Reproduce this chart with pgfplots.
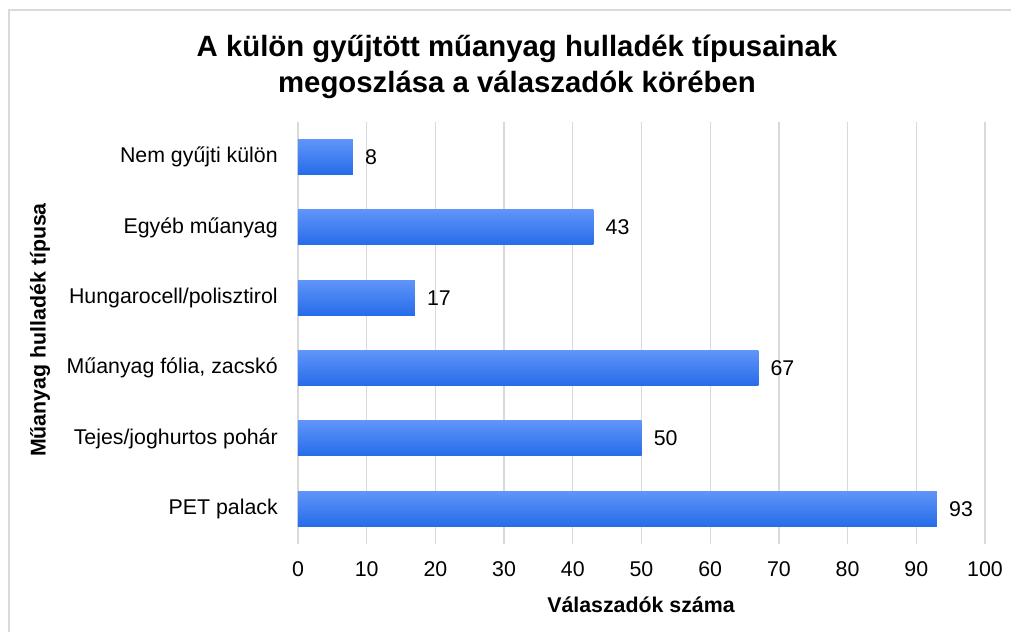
\documentclass[border=0pt]{standalone}
\usepackage{pgfplots}
\pgfplotsset{compat=1.18}
\usepackage{fontspec}
\setmainfont{Liberation Sans}
\definecolor{bartop}{RGB}{96,148,250}
\definecolor{barbot}{RGB}{38,108,232}
\definecolor{gridc}{RGB}{217,217,217}
\newcommand{\tickfont}{\fontsize{16}{19}\selectfont}
\begin{document}
\begin{tikzpicture}
\useasboundingbox (0,0) rectangle (758.25pt,474pt);
\fill[white] (0,0) rectangle (758.25pt,474pt);
\draw[gridc, line width=1.2pt] (6.75pt,0) -- (6.75pt,466.5pt) -- (758.25pt,466.5pt);
\begin{axis}[
  at={(223.5pt,66pt)}, anchor=south west,
  width=515.25pt, height=316.5pt, scale only axis,
  xmin=0, xmax=100, ymin=-0.5, ymax=5.5,
  xtick={0,10,...,100},
  ytick={0,1,2,3,4,5},
  yticklabels={{PET palack},{Tejes/joghurtos pohár},{Műanyag fólia, zacskó},{Hungarocell/polisztirol},{Egyéb műanyag},{Nem gyűjti külön}},
  xmajorgrids, major grid style={draw=gridc, line width=1pt},
  axis line style={draw=none},
  major tick length=0pt,
  tick style={draw=none},
  /pgf/number format/assume math mode=true,
  tick label style={font=\tickfont, text=black},
  xticklabel style={inner sep=0pt, yshift=-13pt},
  yticklabel style={inner sep=0pt, xshift=-15pt, anchor=east},
  xbar, bar width=26.25pt, bar shift=0pt,
  nodes near coords,
  every node near coord/.append style={font=\tickfont, text=black, anchor=west, inner sep=0pt, xshift=9pt},
  clip=false,
  every axis plot/.append style={draw=none, top color=bartop, bottom color=barbot},
]
\addplot coordinates {(93,0)};
\addplot coordinates {(50,1)};
\addplot coordinates {(67,2)};
\addplot coordinates {(17,3)};
\addplot coordinates {(43,4)};
\addplot coordinates {(8,5)};
\end{axis}
\node[font=\fontsize{22}{27}\selectfont\bfseries, align=center] at (387.75pt,424pt)
  {A külön gyűjtött műanyag hulladék típusainak\\megoszlása a válaszadók körében};
\node[font=\fontsize{16}{19}\selectfont\bfseries] at (480.75pt,20.25pt) {Válaszadók száma};
\node[font=\fontsize{16}{19}\selectfont\bfseries, rotate=90] at (30pt,226.5pt) {Műanyag hulladék típusa};
\end{tikzpicture}
\end{document}
